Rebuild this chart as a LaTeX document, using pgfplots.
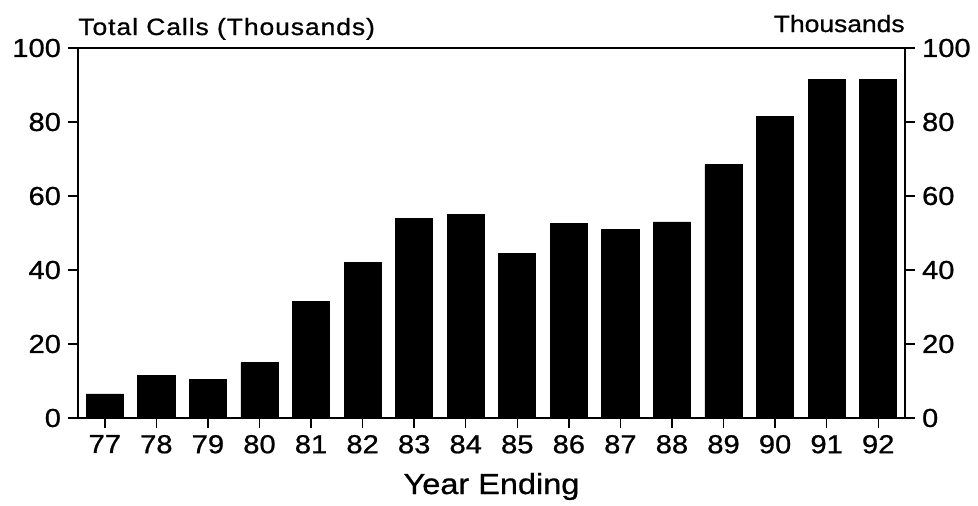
\documentclass[border=0pt]{standalone}
\usepackage{fontspec}
\setmainfont{Liberation Sans}[FakeStretch=1.12, FakeBold=0.8]
\newfontfamily\titlefont{Liberation Sans}[FakeStretch=1.12, FakeBold=0.8, LetterSpace=4]
\usepackage{pgfplots}
\pgfplotsset{compat=1.18}
\begin{document}
\begin{tikzpicture}
\path[use as bounding box] (-39pt,-43.5pt) rectangle (450pt,209pt);
\pgfplotsset{common/.style={at={(0,0)}, anchor=south west, scale only axis,
  width=413.5pt, height=185pt, xmin=-0.52, xmax=15.52, ymin=0, ymax=100,
  ytick={0,20,...,100}, tick align=outside, major tick length=5pt,
  tick style={black, line width=0.7pt}, axis line style={line width=0.7pt},
  /pgf/number format/assume math mode=true,
  ticklabel style={font=\fontsize{13}{13}\selectfont}, clip=false}}
\begin{axis}[common, ytick pos=left, xtick pos=bottom,
  xtick={0,...,15},
  xticklabels={77,78,79,80,81,82,83,84,85,86,87,88,89,90,91,92}]
\addplot[ybar, bar width=0.72, fill=black, draw=black] coordinates {
(0,6.5) (1,11.5) (2,10.3) (3,15) (4,31.5) (5,42) (6,54) (7,55)
(8,44.5) (9,52.5) (10,51) (11,53) (12,68.5) (13,81.5) (14,91.5) (15,91.5)};
\node[anchor=base west, font=\titlefont\fontsize{11.8}{12}\selectfont, inner sep=0pt] at (rel axis cs:0,1) [yshift=6.5pt] {Total Calls (Thousands)};
\node[anchor=base east, font=\fontsize{11.8}{12}\selectfont, inner sep=0pt] at (rel axis cs:1,1) [yshift=8pt] {Thousands};
\node[anchor=base, font=\fontsize{14.5}{14.5}\selectfont, inner sep=0pt] at (rel axis cs:0.5,0) [yshift=-38pt] {Year Ending};
\end{axis}
\begin{axis}[common, ytick pos=right, yticklabel pos=right, xtick=\empty]
\end{axis}
\end{tikzpicture}
\end{document}
